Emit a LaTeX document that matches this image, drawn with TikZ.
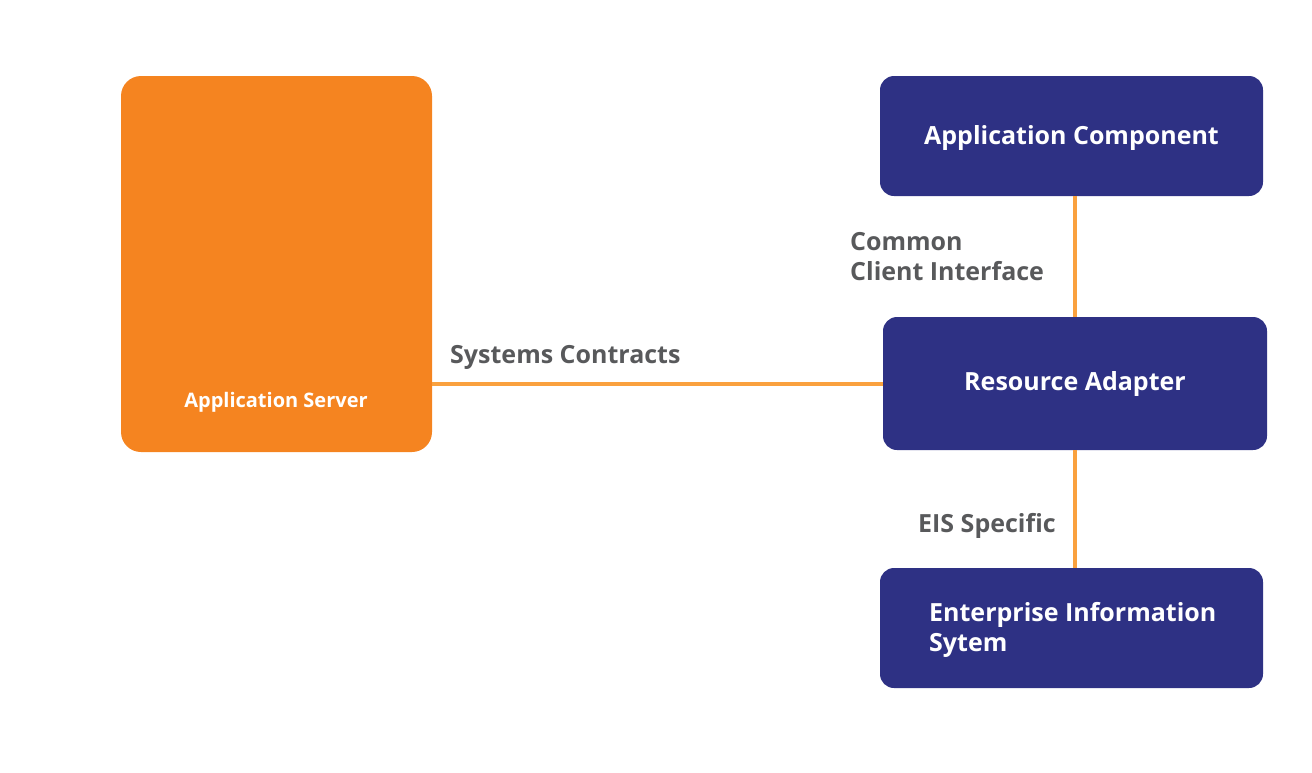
\documentclass[tikz,border=0pt]{standalone}
\usepackage{fontspec}
\setmainfont{Open Sans}
\definecolor{navy}{HTML}{2E3184}
\definecolor{srvorange}{HTML}{F58420}
\definecolor{wireorange}{HTML}{FAA13E}
\definecolor{labelgray}{HTML}{58595B}

\begin{document}
\begin{tikzpicture}[x=1pt,y=-1pt,
    box/.style={fill=navy,rounded corners=14pt,minimum width=383pt,minimum height=120pt,
      text=white,font=\fontsize{25}{30}\selectfont\bfseries},
    wire/.style={wireorange,line width=4pt},
    tag/.style={text=labelgray,anchor=west,align=left,inner sep=0pt,
      font=\fontsize{25}{30}\selectfont\bfseries}]
    \useasboundingbox (0,0) rectangle (1312,772);
    \node[fill=srvorange,rounded corners=20pt,minimum width=311pt,minimum height=376pt] (server) at (276.5,264) {};
    \node[text=white,font=\fontsize{20}{24}\selectfont\bfseries] (servertext) at (276,402) {Application Server};
    \node[box,text depth=2pt] (comp) at (1071.5,136) {Application Component};
    \node[box,minimum width=384pt,minimum height=133pt] (adapter) at (1075,383.5) {Resource Adapter};
    \node[box] (eis) at (1071.5,628) {};
    \node[text=white,anchor=west,align=left,inner sep=0pt,
      font=\fontsize{25}{30}\selectfont\bfseries] (eistext) at (929,630) {Enterprise Information\\Sytem};
    \draw[wire] (adapter.north) -- (adapter.north |- comp.south);
    \draw[wire] (adapter.south) -- (adapter.south |- eis.north);
    \draw[wire] (adapter.west) -- (adapter.west -| server.east);
    \node[tag] (cci) at (850,257) {Common\\Client Interface};
    \node[tag] (syscon) at (450,357) {Systems Contracts};
    \node[tag] (eisspec) at (918,526) {EIS Specific};
  \end{tikzpicture}
\end{document}
